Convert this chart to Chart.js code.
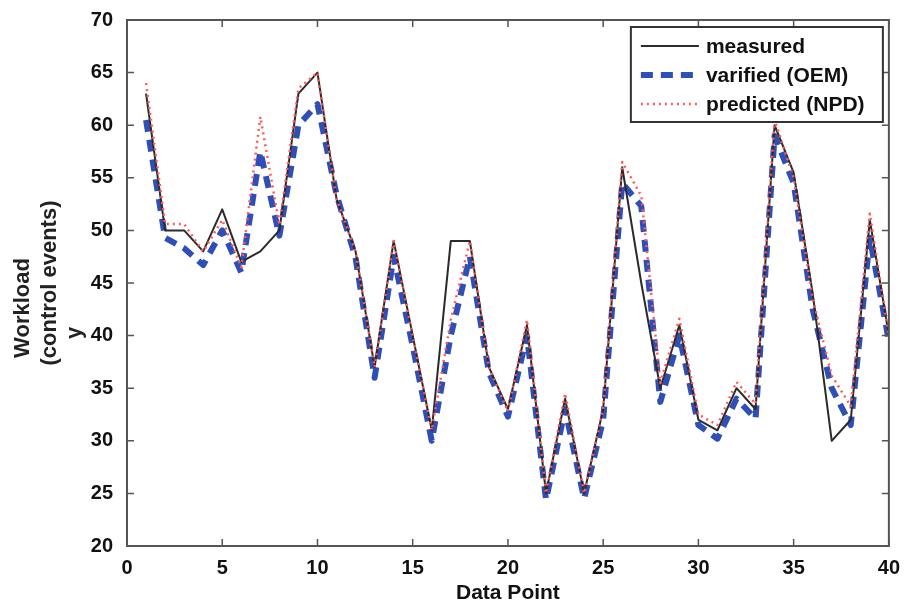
<!DOCTYPE html>
<html>
<head>
<meta charset="utf-8">
<title>Workload per data point</title>
<script src="https://cdn.jsdelivr.net/npm/chart.js@4.4.1/dist/chart.umd.min.js"></script>
<style>
  html, body { margin: 0; padding: 0; background: #fff; }
  #wrap { width: 910px; height: 604px; }
</style>
</head>
<body>
<div id="wrap"><canvas id="wl" width="910" height="604"></canvas></div>
<script>
/* workload chart: measured vs verified vs predicted control events */

const dataPoint = [1, 2, 3, 4, 5, 6, 7, 8, 9, 10, 11, 12, 13, 14, 15, 16, 17, 18, 19, 20,
                   21, 22, 23, 24, 25, 26, 27, 28, 29, 30, 31, 32, 33, 34, 35, 36, 37, 38, 39, 40];
const measured  = [63, 50, 50, 48, 52, 47, 48, 50, 63, 65, 53, 48, 37, 49, 40, 31, 49, 49, 37, 33,
                   41, 25, 34, 25, 33, 56, 45, 35, 41, 32, 31, 35, 33, 60, 55.5, 44, 30, 32, 51, 40];
const verified  = [60.5, 49.3, 48.3, 46.7, 50, 46, 57.5, 49.5, 60, 62, 53.4, 47.4, 36, 47.5, 39, 30, 40, 47.5, 36.5, 32.3,
                   40, 24.4, 33, 24.5, 32, 54.5, 52.3, 33.7, 40, 31.5, 30.2, 34, 32.1, 59, 54.5, 42.5, 35, 31.5, 49.3, 39.5];
const predicted = [64, 50.6, 50.6, 48, 51, 46.5, 60.8, 50.5, 63.5, 65, 53, 48, 37, 49, 40, 31, 41.5, 49, 37, 32.8,
                   41.5, 25, 34.5, 25, 33, 56.5, 53.3, 35.5, 41.6, 32.5, 31.5, 35.6, 33.5, 60.5, 55, 43.5, 36.2, 33.3, 51.6, 40];

const xTicks = [0, 5, 10, 15, 20, 25, 30, 35, 40];
const yTicks = [20, 25, 30, 35, 40, 45, 50, 55, 60, 65, 70];
const seriesNames = ['measured', 'varified (OEM)', 'predicted (NPD)'];
const yTitleLines = ['Workload', '(control events)', 'y'];

const FONT = '"Liberation Sans", Arial, sans-serif';
const pts = ys => ys.map((y, i) => ({ x: dataPoint[i], y }));

// box around the axes with inward ticks on all four sides
const boxAxesPlugin = {
  id: 'boxAxes',
  afterDatasetsDraw(chart) {
    const { ctx, chartArea: a, scales } = chart;
    ctx.save();
    ctx.strokeStyle = '#555';
    ctx.lineWidth = 2;
    ctx.strokeRect(a.left, a.top, a.right - a.left, a.bottom - a.top);
    ctx.lineWidth = 1.5;
    const tl = 7;
    ctx.beginPath();
    xTicks.forEach(v => {
      const x = scales.x.getPixelForValue(v);
      ctx.moveTo(x, a.bottom); ctx.lineTo(x, a.bottom - tl);
      ctx.moveTo(x, a.top);    ctx.lineTo(x, a.top + tl);
    });
    yTicks.forEach(v => {
      const y = scales.y.getPixelForValue(v);
      ctx.moveTo(a.left, y);  ctx.lineTo(a.left + tl, y);
      ctx.moveTo(a.right, y); ctx.lineTo(a.right - tl, y);
    });
    ctx.stroke();
    ctx.restore();
  },
};

// stacked, rotated y title
const yTitlePlugin = {
  id: 'yTitle',
  afterDraw(chart) {
    const { ctx, chartArea: a } = chart;
    const mid = (a.top + a.bottom) / 2;
    const spots = [[23, mid + 25], [50, mid], [75, mid + 50]];
    ctx.save();
    ctx.fillStyle = '#222';
    ctx.font = `bold 22px ${FONT}`;
    ctx.textAlign = 'center';
    ctx.textBaseline = 'middle';
    yTitleLines.forEach((t, i) => {
      ctx.save();
      ctx.translate(spots[i][0], spots[i][1]);
      ctx.rotate(-Math.PI / 2);
      ctx.fillText(t, 0, 0);
      ctx.restore();
    });
    ctx.restore();
  },
};

// legend with line samples, top right inside the axes
const lineLegendPlugin = {
  id: 'lineLegend',
  afterDraw(chart) {
    const { ctx, chartArea: a } = chart;
    const bx = a.right - 258, by = a.top + 7, bw = 252, bh = 95;
    ctx.save();
    ctx.fillStyle = '#fff';
    ctx.fillRect(bx, by, bw, bh);
    ctx.strokeStyle = '#333';
    ctx.lineWidth = 2;
    ctx.strokeRect(bx, by, bw, bh);
    ctx.font = `bold 21px ${FONT}`;
    ctx.textBaseline = 'middle';
    chart.data.datasets.forEach((ds, i) => {
      const y = by + 19 + i * 29;
      ctx.strokeStyle = ds.borderColor;
      ctx.lineWidth = ds.borderWidth;
      ctx.setLineDash(ds.borderDash || []);
      ctx.beginPath();
      ctx.moveTo(bx + 10, y); ctx.lineTo(bx + 68, y);
      ctx.stroke();
      ctx.setLineDash([]);
      ctx.fillStyle = '#111';
      ctx.fillText(ds.label, bx + 75, y + 1);
    });
    ctx.restore();
  },
};

new Chart(document.getElementById('wl').getContext('2d'), {
  type: 'line',
  data: {
    datasets: [
      { label: seriesNames[0], data: pts(measured), borderColor: '#2b2b2b', borderWidth: 2,
        borderJoinStyle: 'round', pointRadius: 0, tension: 0, order: 1 },
      { label: seriesNames[1], data: pts(verified), borderColor: '#2f4fb8', borderWidth: 6,
        borderDash: [12, 8], borderJoinStyle: 'round', pointRadius: 0, tension: 0, order: 2 },
      { label: seriesNames[2], data: pts(predicted), borderColor: '#ff5a5a', borderWidth: 2.5,
        borderDash: [2, 4], borderJoinStyle: 'round', pointRadius: 0, tension: 0, order: 0 },
    ],
  },
  options: {
    responsive: false,
    animation: false,
    events: [],
    layout: { padding: { left: 0, top: 20, right: 20, bottom: 0 } },
    plugins: { legend: { display: false }, tooltip: { enabled: false } },
    scales: {
      x: {
        type: 'linear', min: 0, max: 40,
        afterFit: s => { s.height = 58; },
        afterBuildTicks: s => { s.ticks = xTicks.map(v => ({ value: v })); },
        grid: { display: false, drawTicks: false },
        border: { display: false },
        ticks: { color: '#111', padding: 10, font: { family: FONT, size: 20, weight: 'bold' } },
        title: { display: true, text: 'Data Point', color: '#111', padding: { top: 0, bottom: -2 },
                 font: { family: FONT, size: 21, weight: 'bold' } },
      },
      y: {
        min: 20, max: 70,
        afterFit: s => { s.width = 127; s.paddingTop = 0; s.paddingBottom = 0; },
        afterBuildTicks: s => { s.ticks = yTicks.map(v => ({ value: v })); },
        grid: { display: false, drawTicks: false },
        border: { display: false },
        ticks: { color: '#111', padding: 14, font: { family: FONT, size: 20, weight: 'bold' } },
      },
    },
  },
  plugins: [boxAxesPlugin, yTitlePlugin, lineLegendPlugin],
});
</script>
</body>
</html>
